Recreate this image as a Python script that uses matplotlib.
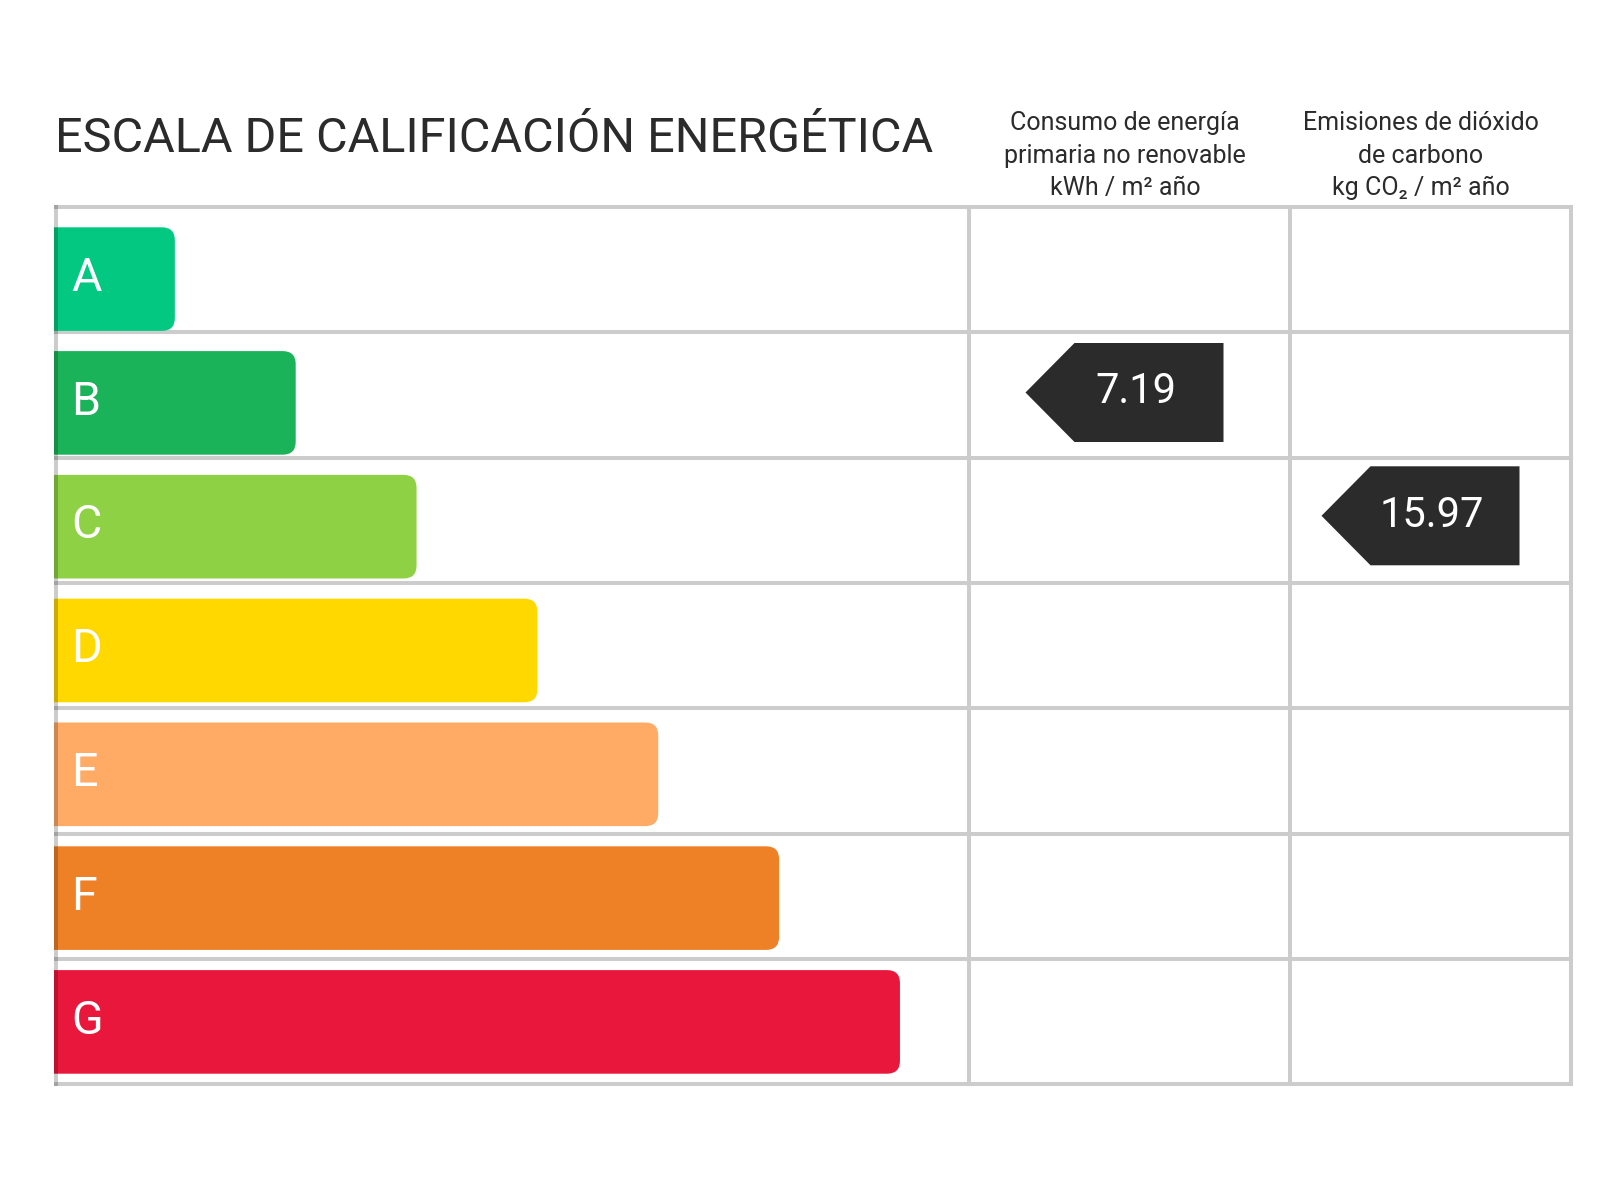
import matplotlib
matplotlib.use("Agg")
import matplotlib.pyplot as plt
from matplotlib.path import Path
from matplotlib.patches import PathPatch, Polygon

# ---------------- data ----------------
ratings = ["A", "B", "C", "D", "E", "F", "G"]
bar_steps = [1, 2, 3, 4, 5, 6, 7]
bar_colors = ["#03c882", "#1bb35a", "#8ed144", "#ffd800", "#ffaa65", "#ee8026", "#e9173b"]

title = "ESCALA DE CALIFICACIÓN ENERGÉTICA"
energy_header = ["Consumo de energía", "primaria no renovable", "kWh / m² año"]
emission_header = ["Emisiones de dióxido", "de carbono", "kg CO₂ / m² año"]

energy_value = "7.19"
energy_rating = "B"
emission_value = "15.97"
emission_rating = "C"

# ---------------- layout (pixel units) ----------------
FONT = ["Roboto", "DejaVu Sans"]
DARK = "#2b2b2b"
GRID = "#cccccc"

left, top = 54.0, 207.0
row_h = 125.3
col1, col2, right = 969.0, 1290.0, 1571.0
bottom = top + row_h * len(ratings)
unit = 120.85          # px per step of bar length
bar_pitch = 123.8
bar_top0 = 227.3
bar_h = 103.6
radius = 13.0
grid_lw = 2.9

fig = plt.figure(figsize=(16, 12), dpi=100)
ax = fig.add_axes([0, 0, 1, 1])
ax.set_xlim(0, 1600)
ax.set_ylim(1200, 0)
ax.axis("off")


def right_rounded(x0, y0, w, h, r):
    x1, y1 = x0 + w, y0 + h
    verts = [(x0, y0), (x1 - r, y0), (x1, y0), (x1, y0 + r),
             (x1, y1 - r), (x1, y1), (x1 - r, y1), (x0, y1), (x0, y0)]
    codes = [Path.MOVETO, Path.LINETO, Path.CURVE3, Path.CURVE3,
             Path.LINETO, Path.CURVE3, Path.CURVE3, Path.LINETO, Path.CLOSEPOLY]
    return Path(verts, codes)


# grid: horizontal lines
for i in range(len(ratings) + 1):
    y = top + i * row_h
    ax.plot([left + 2, right], [y, y], color=GRID, lw=grid_lw,
            solid_capstyle="projecting", zorder=1)
for x in (col1, col2, right):
    ax.plot([x, x], [top, bottom], color=GRID, lw=grid_lw,
            solid_capstyle="projecting", zorder=1)

# bars
for i, (lab, k, c) in enumerate(zip(ratings, bar_steps, bar_colors)):
    y0 = bar_top0 + i * bar_pitch
    ax.add_patch(PathPatch(right_rounded(left, y0, k * unit, bar_h, radius),
                           facecolor=c, edgecolor="none", zorder=2))
    ax.text(71, y0 + bar_h - 40, lab, color="white", fontsize=33.5,
            family=FONT, ha="left", va="baseline", zorder=3)

# left border drawn over the bars (darkens their left edge)
ax.plot([left + 2, left + 2], [top, bottom], color="black", alpha=0.2,
        lw=grid_lw, solid_capstyle="projecting", zorder=4)

# title
t = ax.text(55, 152.3, title, color=DARK, fontsize=34, family=FONT,
            ha="left", va="baseline")
fig.canvas.draw()
bb = t.get_window_extent()
t.set_fontsize(34 * 878.0 / bb.width)

# headers
baselines = [130, 163, 195]
for lines, cx in ((energy_header, 1125), (emission_header, 1421)):
    for txt, yb in zip(lines, baselines):
        ax.text(cx, yb, txt, color=DARK, fontsize=18, family=FONT,
                ha="center", va="baseline")


# pointers
def pointer(col_l, col_r, rating, value, shift, dy):
    i = ratings.index(rating)
    row_top = top + i * row_h
    ptop = row_top + 10.7 + dy
    ph = 99.0
    pw = 198.0
    tipw = 49.0
    cx = (col_l + col_r) / 2 + shift
    xt = cx - pw / 2
    xr = cx + pw / 2
    poly = [(xt, ptop + ph / 2), (xt + tipw, ptop), (xr, ptop),
            (xr, ptop + ph), (xt + tipw, ptop + ph)]
    ax.add_patch(Polygon(poly, closed=True, facecolor=DARK, edgecolor="none", zorder=3))
    ax.text(cx + 11, ptop + 60.3, value, color="white", fontsize=30,
            family=FONT, ha="center", va="baseline", zorder=4)


pointer(col1, col2, energy_rating, energy_value, -5, 0)
pointer(col2, right, emission_rating, emission_value, -10, -2)

fig.savefig("out.png", dpi=100, facecolor="white")
